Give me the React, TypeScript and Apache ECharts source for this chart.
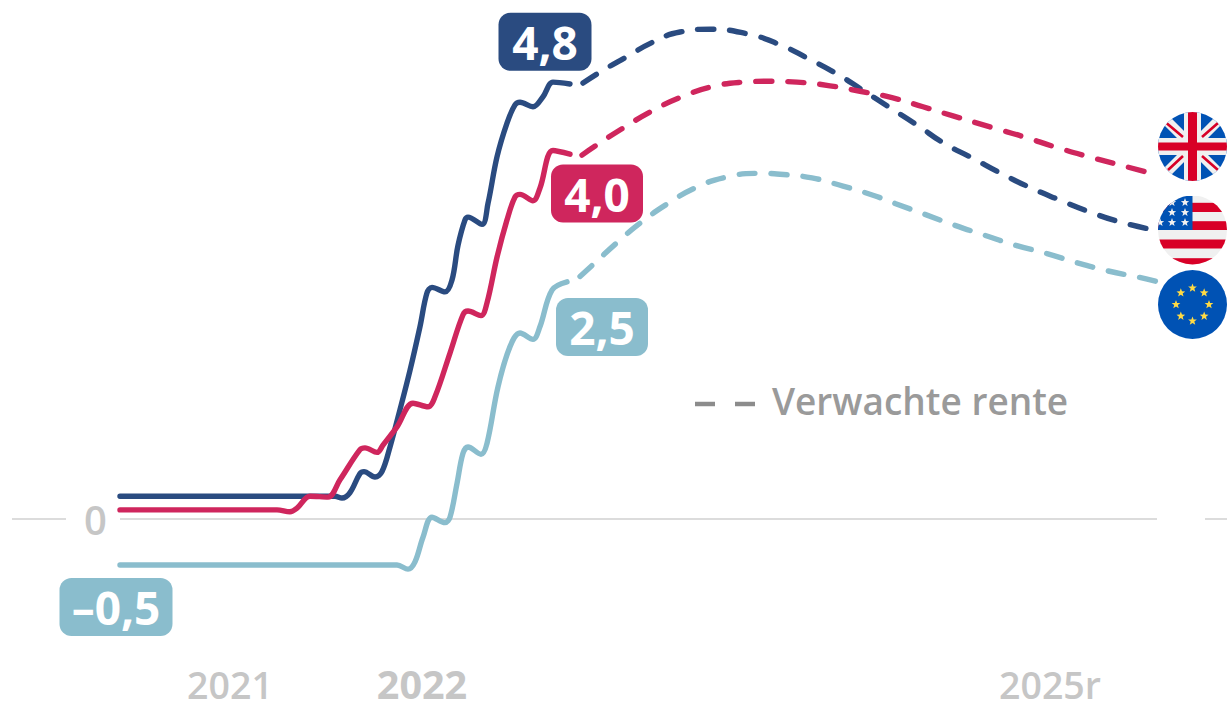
import React, { useEffect, useRef } from "react";
import * as echarts from "echarts";

// x = weeks since the start of the chart, y = interest rate in %
const ukSolid = [[0,0.10],[39.25,0.10],[42.5,0.08],[44.25,0.12],[47.5,0.25],[52,0.24],[55,0.43],[60,0.76],[61.25,0.78],[64.25,0.73],[65.75,0.81],[69.25,1.01],[73.25,1.27],[77,1.23],[78.75,1.34],[82.5,1.82],[85.75,2.24],[87,2.28],[90.25,2.23],[91.75,2.37],[94.25,2.87],[96.75,3.28],[98.75,3.53],[100,3.56],[103.25,3.49],[105,3.63],[108.25,4.04],[112.5,4.00]];
const ukExpected = [[115.5,3.99],[119.5,4.11],[126.25,4.30],[133.25,4.48],[140.5,4.63],[148,4.74],[155.75,4.79],[161.75,4.80],[169.25,4.79],[177.5,4.75],[185,4.69],[193,4.62],[200.75,4.52],[208.25,4.42],[218.25,4.29],[226,4.19],[233.75,4.08],[241.5,3.98],[249.25,3.89],[257,3.80]];
const usSolid = [[0,0.25],[53.75,0.25],[55.5,0.23],[57.5,0.29],[60,0.50],[61,0.52],[63.75,0.46],[65.5,0.52],[67.5,0.79],[70,1.20],[72.5,1.63],[75,2.11],[76.75,2.48],[78,2.54],[81.25,2.49],[83,2.62],[84.5,3.00],[86.25,3.28],[87,3.31],[90.5,3.23],[92,3.46],[94.25,3.97],[96.75,4.34],[98.75,4.54],[100,4.57],[103.25,4.52],[105.75,4.63],[108.25,4.79],[112.5,4.77]];
const usExpected = [[115.75,4.78],[120,4.90],[126.75,5.07],[133.25,5.23],[140,5.34],[147.5,5.37],[156.75,5.32],[164.5,5.21],[172,5.05],[179.25,4.88],[185.75,4.70],[192.5,4.51],[199.25,4.32],[206,4.12],[213,3.96],[220.25,3.79],[227.25,3.64],[234.75,3.50],[242.25,3.37],[249.75,3.26],[257.25,3.18]];
const euSolid = [[0,-0.505],[69.25,-0.505],[72,-0.55],[73.75,-0.47],[75.75,-0.20],[78,0.02],[81.25,-0.04],[82.5,0.02],[84.25,0.39],[85.75,0.72],[87,0.79],[90.25,0.71],[91.75,0.83],[94.5,1.45],[97.5,1.89],[100,2.04],[103.25,1.97],[105,2.11],[108,2.51],[111.75,2.60]];
const euExpected = [[115,2.66],[118.75,2.81],[124.5,3.04],[130.5,3.26],[137,3.46],[144.25,3.64],[151.75,3.75],[159.5,3.79],[165,3.78],[173,3.74],[180.75,3.65],[188.25,3.55],[193.75,3.46],[201.25,3.34],[208.75,3.22],[216.25,3.11],[224,3.00],[231.75,2.91],[239.25,2.81],[247,2.72],[254.75,2.65],[259.5,2.60]];
const zeroLine = [[-27,0],[-13.5,0],[-13,null],[0,0],[259.25,0],[260,null],[271.25,0],[276.75,0]];
const yearTicks = [27.5, 75.5, 232.5];
const yearLabels = ["2021", "2022", "2025r"];
const legendText = "Verwachte rente";

const NAVY = "#2a4b80";
const PINK = "#cf265d";
const TEAL = "#8abdcd";
const GREY = "#c6c6c6";
const FONT = '"Open Sans", sans-serif';

const star = (cx: number, cy: number, r: number, fill: string) => {
  const pts: string[] = [];
  for (let i = 0; i < 10; i++) {
    const rr = i % 2 === 0 ? r : r * 0.42;
    const a = -Math.PI / 2 + (i * Math.PI) / 5;
    pts.push(`${(cx + rr * Math.cos(a)).toFixed(2)},${(cy + rr * Math.sin(a)).toFixed(2)}`);
  }
  return `<polygon points="${pts.join(" ")}" fill="${fill}"/>`;
};
const wrap = (body: string) =>
  "data:image/svg+xml;charset=utf-8," +
  encodeURIComponent(
    `<svg xmlns="http://www.w3.org/2000/svg" width="69" height="69" viewBox="0 0 69 69"><defs><clipPath id="c"><circle cx="34.5" cy="34.5" r="34.5"/></clipPath></defs><g clip-path="url(#c)">${body}</g></svg>`
  );
const ukFlag = wrap(
  `<rect width="69" height="69" fill="#0052b4"/>` +
    `<path d="M0 0L69 69M69 0L0 69" stroke="#f0f0f0" stroke-width="10"/>` +
    `<path d="M8.7 11.3L25 25M60 11L44 25M10 58L25 44M60 58L44 44" stroke="#d80027" stroke-width="2.6"/>` +
    `<rect x="26" width="17" height="69" fill="#f0f0f0"/><rect y="26" width="69" height="17" fill="#f0f0f0"/>` +
    `<rect x="30" width="9" height="69" fill="#d80027"/><rect y="30.5" width="69" height="8" fill="#d80027"/>`
);
const usFlag = wrap(
  `<rect width="69" height="69" fill="#f0f0f0"/>` +
    `<rect y="7.3" width="69" height="9.2" fill="#d80027"/><rect y="25.7" width="69" height="8.8" fill="#d80027"/>` +
    `<rect y="44" width="69" height="9" fill="#d80027"/><rect y="62.7" width="69" height="7" fill="#d80027"/>` +
    `<rect width="34.5" height="34.5" fill="#0052b4"/>` +
    [[14,7],[27,7],[14,17],[27,17],[2,27],[14,27],[27,27]].map(([x, y]) => star(x, y, 4.4, "#f0f0f0")).join("")
);
const euFlag = wrap(
  `<rect width="69" height="69" fill="#0052b4"/>` +
    Array.from({ length: 8 }, (_, i) => {
      const a = (i * Math.PI) / 4;
      return star(34.5 + 16.5 * Math.sin(a), 34.5 - 16.5 * Math.cos(a), 4.6, "#ffda44");
    }).join("")
);

const line = (name: string, data: any[], color: string, dashed: boolean, z: number) => ({
  type: "line",
  name,
  data,
  z,
  smooth: dashed ? 0.5 : 0.35,
  showSymbol: false,
  symbol: "none",
  silent: true,
  clip: false,
  lineStyle: {
    color,
    width: 5.4,
    cap: "round",
    join: "round",
    type: dashed ? [16, 16] : "solid",
  },
});

const callout = (point: number[], text: string, color: string, dx: number, dy: number, w: number) => ({
  value: point,
  label: {
    show: true,
    position: "inside",
    formatter: text,
    offset: [dx, dy],
    width: w,
    height: 58,
    lineHeight: 56,
    align: "center",
    verticalAlign: "middle",
    backgroundColor: color,
    borderRadius: 12,
    color: "#fff",
    fontFamily: FONT,
    fontWeight: 700,
    fontSize: 46,
  },
});

export default function App() {
  const ref = useRef<HTMLDivElement>(null);
  useEffect(() => {
    const chart = echarts.init(ref.current!, undefined, { renderer: "svg" });
    chart.setOption({
      animation: false,
      backgroundColor: "#fff",
      grid: { left: 0, right: 0, top: 0, bottom: 36, outerBoundsMode: "none" },
      xAxis: {
        type: "value",
        min: -30,
        max: 276.75,
        splitLine: { show: false },
        axisLine: { show: false },
        axisTick: { show: false },
        axisLabel: {
          margin: 2,
          customValues: yearTicks,
          lineHeight: 30,
          height: 30,
          color: GREY,
          fontFamily: FONT,
          fontSize: 37.5,
          fontWeight: 600,
          formatter: (v: number) => {
            const t = yearLabels[yearTicks.indexOf(v)];
            return t === "2022" ? `{b|${t}}` : t;
          },
          rich: {
            b: { color: GREY, fontFamily: FONT, fontSize: 39.5, fontWeight: 700, lineHeight: 30, height: 30 },
          },
        },
      },
      yAxis: {
        type: "value",
        min: -148 / 91.2,
        max: 519 / 91.2,
        splitLine: { show: false },
        axisLine: { show: false },
        axisTick: { show: false },
        axisLabel: {
          inside: true,
          margin: 84,
          customValues: [0],
          color: GREY,
          fontFamily: FONT,
          fontSize: 40,
          fontWeight: 600,
          padding: [0, 0, 3, 0],
          formatter: "{value}",
        },
      },
      series: [
        { ...line("Nullijn", zeroLine, "#dcdcdc", false, 1), smooth: false, lineStyle: { color: "#dcdcdc", width: 2 } },
        line("VS", usSolid, NAVY, false, 2),
        line("VS verwacht", usExpected, NAVY, true, 2),
        line("VK", ukSolid, PINK, false, 3),
        line("VK verwacht", ukExpected, PINK, true, 3),
        line("Eurozone", euSolid, TEAL, false, 2),
        line("Eurozone verwacht", euExpected, TEAL, true, 2),
        {
          type: "scatter",
          symbolSize: 0,
          silent: true,
          z: 5,
          clip: false,
          itemStyle: { opacity: 1 },
          data: [
            callout(usSolid[26], "4,8", NAVY, 2, -55, 93),
            callout(ukSolid[26], "4,0", PINK, 44, 43, 92),
            callout(euSolid[18], "2,5", TEAL, 50, 37, 92),
            callout(euSolid[0], "\u20130,5", TEAL, -4, 42, 113),
          ],
        },
      ],
      graphic: [
        { type: "line", shape: { x1: 695, y1: 404, x2: 715, y2: 404 }, style: { stroke: "#8c8c8c", lineWidth: 4.5 } },
        { type: "line", shape: { x1: 735, y1: 404, x2: 755, y2: 404 }, style: { stroke: "#8c8c8c", lineWidth: 4.5 } },
        {
          type: "text",
          x: 772,
          y: 400,
          style: { text: legendText, fill: "#9a9a9a", font: `600 37px ${FONT}`, verticalAlign: "middle" },
        },
        { type: "image", x: 1158, y: 112, z: 10, style: { image: ukFlag, width: 69, height: 69 } },
        { type: "image", x: 1158, y: 195.5, z: 10, style: { image: usFlag, width: 69, height: 69 } },
        { type: "image", x: 1158, y: 270, z: 10, style: { image: euFlag, width: 69, height: 69 } },
      ],
    });
    return () => chart.dispose();
  }, []);
  return <div ref={ref} style={{ position: "fixed", left: 0, top: 0, width: 1227, height: 703 }} />;
}
